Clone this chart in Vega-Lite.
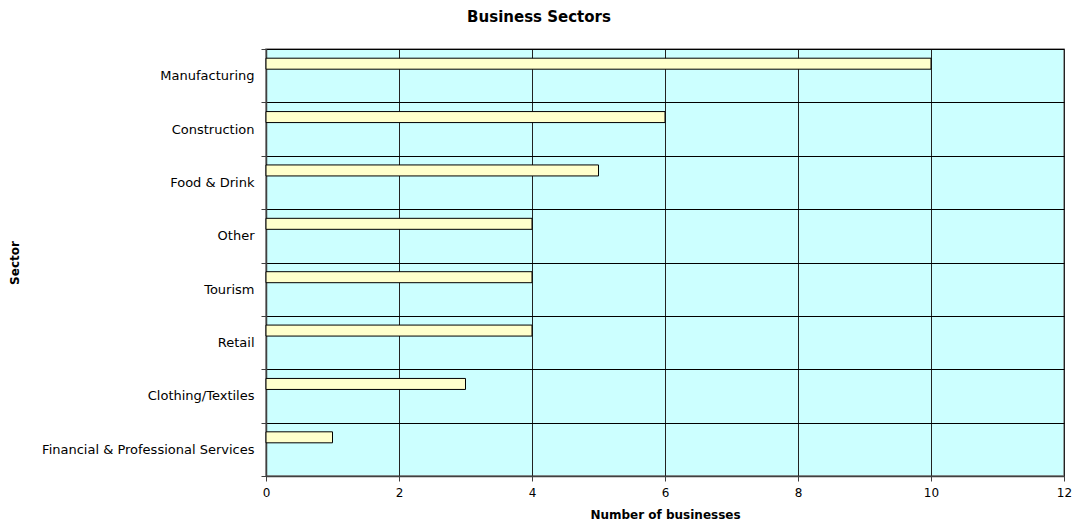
{
  "$schema": "https://vega.github.io/schema/vega-lite/v6.json",
  "width": 798,
  "height": 427,
  "autosize": {"type": "none"},
  "padding": {"left": 266, "top": 49, "right": 12, "bottom": 48},
  "background": "#ffffff",
  "title": {
    "text": "Business Sectors",
    "font": "DejaVu Sans",
    "fontSize": 15,
    "fontWeight": "bold",
    "color": "#000000",
    "anchor": "middle",
    "baseline": "alphabetic",
    "offset": 6,
    "dx": -126
  },
  "config": {
    "view": {"fill": "#CCFFFF", "stroke": "#808080", "strokeWidth": 1.5},
    "font": "DejaVu Sans"
  },
  "data": {
    "values": [
      {"sector": "Manufacturing", "count": 10},
      {"sector": "Construction", "count": 6},
      {"sector": "Food & Drink", "count": 5},
      {"sector": "Other", "count": 4},
      {"sector": "Tourism", "count": 4},
      {"sector": "Retail", "count": 4},
      {"sector": "Clothing/Textiles", "count": 3},
      {"sector": "Financial & Professional Services", "count": 1}
    ]
  },
  "mark": {
    "type": "bar",
    "fill": "#FFFFCC",
    "stroke": "#000000",
    "strokeWidth": 1,
    "size": 11,
    "yOffset": -12
  },
  "encoding": {
    "y": {
      "field": "sector",
      "type": "nominal",
      "sort": null,
      "scale": {"paddingInner": 0, "paddingOuter": 0},
      "axis": {
        "title": "Sector",
        "titleFont": "DejaVu Sans",
        "titleFontSize": 12,
        "titleFontWeight": "bold",
        "titleColor": "#000000",
        "titlePadding": 45,
        "labelFont": "DejaVu Sans",
        "labelFontSize": 13,
        "labelColor": "#000000",
        "labelPadding": 7,
        "labelLimit": 300,
        "tickBand": "extent",
        "tickSize": 5,
        "tickColor": "#404040",
        "tickWidth": 1,
        "grid": true,
        "gridColor": "#000000",
        "gridWidth": 1,
        "domainColor": "#404040",
        "domainWidth": 1.5
      }
    },
    "x": {
      "field": "count",
      "type": "quantitative",
      "scale": {"domain": [0, 12], "nice": false},
      "axis": {
        "title": "Number of businesses",
        "values": [0, 2, 4, 6, 8, 10, 12],
        "format": "d",
        "titleFont": "DejaVu Sans",
        "titleFontSize": 12,
        "titleFontWeight": "bold",
        "titleColor": "#000000",
        "titlePadding": 11,
        "labelFont": "DejaVu Sans",
        "labelFontSize": 12,
        "labelColor": "#000000",
        "labelPadding": 6,
        "labelFlush": false,
        "tickSize": 5,
        "tickColor": "#404040",
        "grid": true,
        "gridColor": "#222222",
        "gridWidth": 1,
        "domainColor": "#404040",
        "domainWidth": 1.5
      }
    }
  }
}
